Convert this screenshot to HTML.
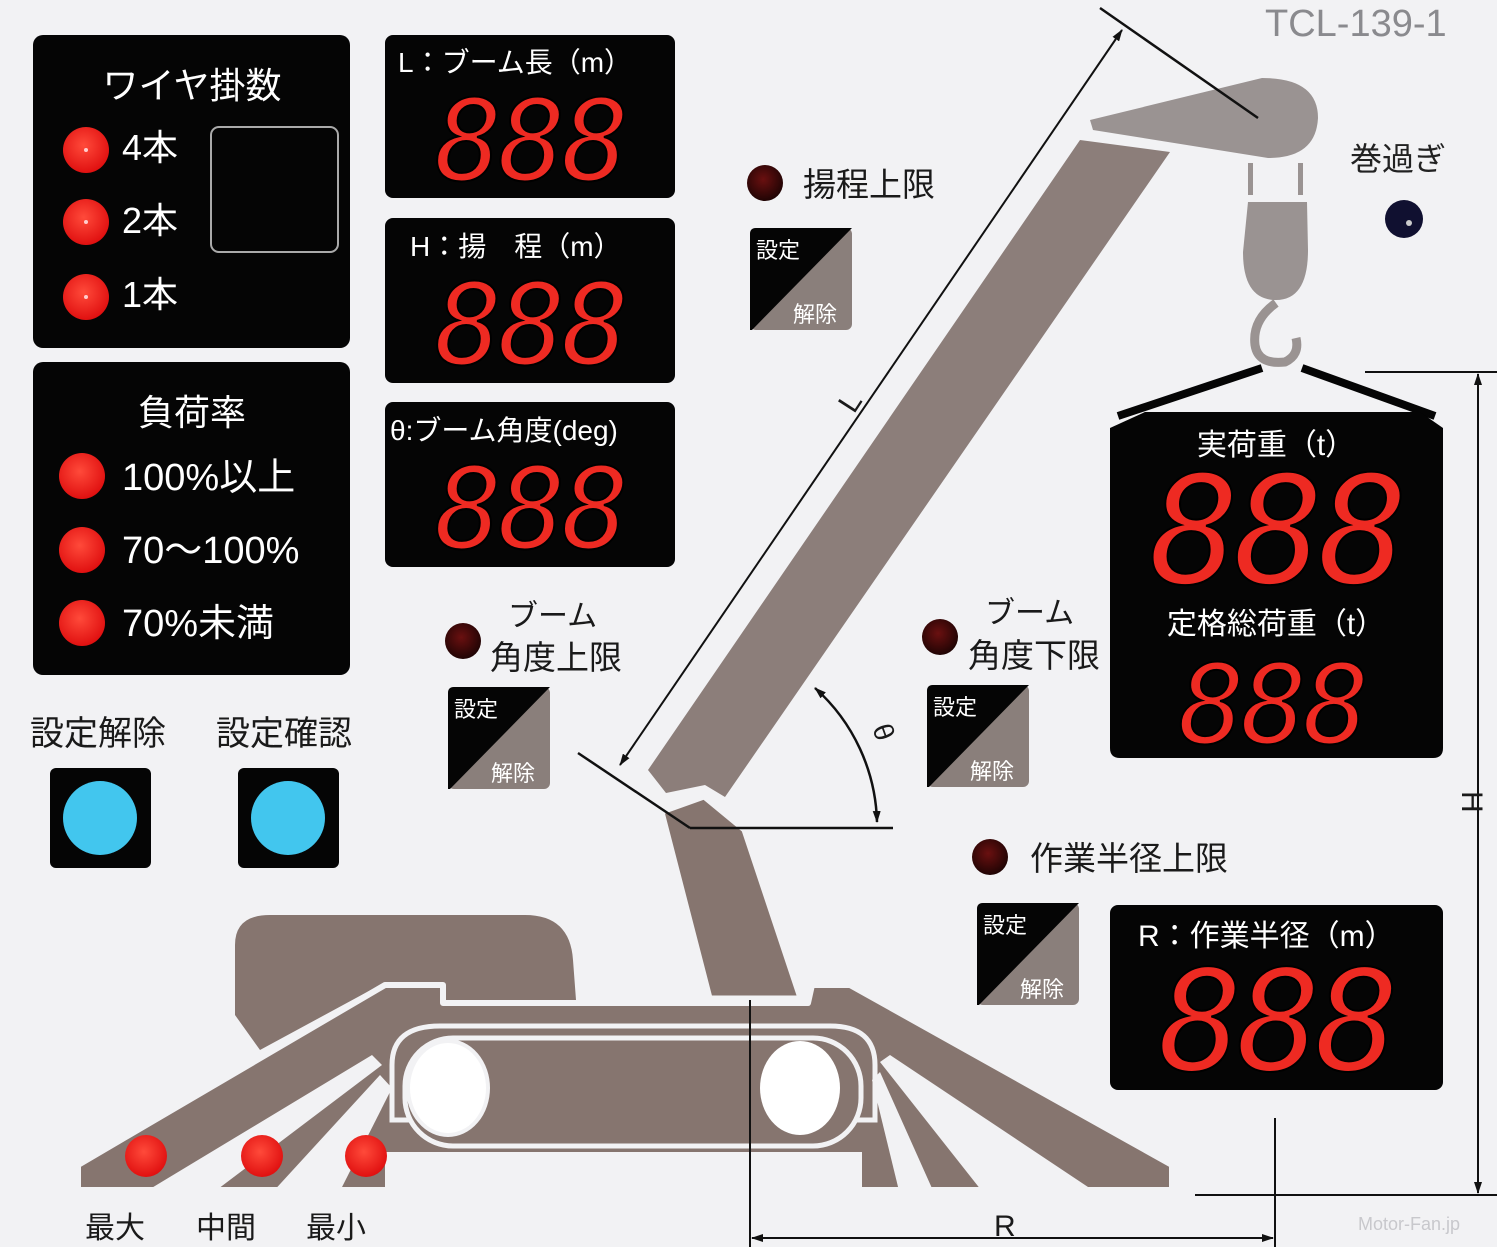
<!DOCTYPE html>
<html><head><meta charset="utf-8"><style>
html,body{margin:0;padding:0;background:#f2f2f4;}
svg{display:block;}
.j{font-family:"Liberation Sans","Noto Sans CJK JP",sans-serif;}
.w{fill:#fff;}
.d{font-family:"DejaVu Sans Mono","Liberation Mono",monospace;font-style:italic;fill:#ee2a22;stroke:#000;stroke-width:2;}
.k{fill:#1a1a1a;}
</style></head><body>
<svg width="1497" height="1247" viewBox="0 0 1497 1247" xmlns="http://www.w3.org/2000/svg">
<defs>
<radialGradient id="red" cx="0.45" cy="0.4" r="0.6"><stop offset="0" stop-color="#ff4a3a"/><stop offset="1" stop-color="#e01010"/></radialGradient>
<radialGradient id="dred" cx="0.45" cy="0.4" r="0.6"><stop offset="0" stop-color="#6a1010"/><stop offset="1" stop-color="#200404"/></radialGradient>
<marker id="ar" markerWidth="12" markerHeight="8" refX="11" refY="4" orient="auto-start-reverse" markerUnits="userSpaceOnUse"><path d="M0,0 L12,4 L0,8 Z" fill="#111"/></marker>
</defs>
<rect width="1497" height="1247" fill="#f2f2f4"/>

<!-- wire panel -->
<rect x="33" y="35" width="317" height="313" rx="10" fill="#050505"/>
<text x="192" y="98" class="j w" font-size="36" text-anchor="middle">ワイヤ掛数</text>
<rect x="211" y="127" width="127" height="125" rx="8" fill="none" stroke="#aaa" stroke-width="2"/>
<circle cx="86" cy="150" r="23" fill="url(#red)"/><circle cx="86" cy="150" r="2" fill="#fcc"/>
<circle cx="86" cy="222" r="23" fill="url(#red)"/><circle cx="86" cy="222" r="2" fill="#fcc"/>
<circle cx="86" cy="297" r="23" fill="url(#red)"/><circle cx="86" cy="297" r="2" fill="#fcc"/>
<text x="122" y="160" class="j w" font-size="36">4本</text>
<text x="122" y="233" class="j w" font-size="36">2本</text>
<text x="122" y="307" class="j w" font-size="36">1本</text>

<!-- load rate panel -->
<rect x="33" y="362" width="317" height="313" rx="10" fill="#050505"/>
<text x="192" y="425" class="j w" font-size="36" text-anchor="middle">負荷率</text>
<circle cx="82" cy="476" r="23" fill="url(#red)"/><circle cx="82" cy="550" r="23" fill="url(#red)"/><circle cx="82" cy="623" r="23" fill="url(#red)"/>
<text x="122" y="490" class="j w" font-size="38">100%以上</text>
<text x="122" y="563" class="j w" font-size="38">70～100%</text>
<text x="122" y="636" class="j w" font-size="38">70%未満</text>

<text x="30" y="745" class="j k" font-size="34">設定解除</text>
<text x="216" y="745" class="j k" font-size="34">設定確認</text>
<rect x="50" y="768" width="101" height="100" rx="6" fill="#050505"/><circle cx="100" cy="818" r="37" fill="#42c6ee"/>
<rect x="238" y="768" width="101" height="100" rx="6" fill="#050505"/><circle cx="288" cy="818" r="37" fill="#42c6ee"/>

<!-- L H theta displays -->
<rect x="385" y="35" width="290" height="163" rx="8" fill="#050505"/>
<text x="398" y="72" class="j w" font-size="28">L：ブーム長（m）</text>
<text x="530" y="180" class="d" font-size="112" text-anchor="middle" letter-spacing="-4">888</text>
<rect x="385" y="218" width="290" height="165" rx="8" fill="#050505"/>
<text x="410" y="256" class="j w" font-size="28">H：揚　程（m）</text>
<text x="530" y="364" class="d" font-size="112" text-anchor="middle" letter-spacing="-4">888</text>
<rect x="385" y="402" width="290" height="165" rx="8" fill="#050505"/>
<text x="390" y="440" class="j w" font-size="28">θ:ブーム角度(deg)</text>
<text x="530" y="548" class="d" font-size="112" text-anchor="middle" letter-spacing="-4">888</text>

<!-- crawler / cab -->
<path d="M235,1015 L235,945 Q235,915 270,915 L525,915 Q570,915 573,960 L576,1000 L440,1000 L440,985 L380,985 L260,1050 Z" fill="#86756f"/>
<path d="M662,812 L704,797 L744,830 L800,998 L710,998 Z" fill="#86756f" stroke="#f2f2f4" stroke-width="5"/>
<path d="M78,1190 L78,1165 L385,985 L443,985 L443,1003 L808,1003 L812,985 L850,985 L1172,1165 L1172,1190 Z" fill="#86756f" stroke="#f2f2f4" stroke-width="6" stroke-linejoin="round"/>
<path d="M140,1195 L372,1055 L382,1065 L210,1195 Z" fill="#f2f2f4"/>
<path d="M270,1195 L380,1075 L392,1088 L338,1195 Z" fill="#f2f2f4"/>
<path d="M385,1195 L385,1152 L862,1152 L862,1195 Z" fill="#f2f2f4"/>
<path d="M900,1195 L872,1080 L880,1072 L935,1195 Z" fill="#f2f2f4"/>
<path d="M985,1195 L880,1062 L890,1055 L1100,1195 Z" fill="#f2f2f4"/>
<path d="M392,1120 L392,1065 Q392,1026 440,1026 L830,1026 Q875,1026 875,1065 L875,1120 Z" fill="none" stroke="#f2f2f4" stroke-width="5"/>
<rect x="405" y="1038" width="456" height="108" rx="48" fill="#86756f" stroke="#f2f2f4" stroke-width="5"/>
<ellipse cx="448" cy="1088" rx="40" ry="47" fill="#fff" stroke="#f2f2f4" stroke-width="4"/>
<ellipse cx="800" cy="1088" rx="40" ry="47" fill="#fff"/>
<circle cx="146" cy="1156" r="21" fill="url(#red)"/><circle cx="262" cy="1156" r="21" fill="url(#red)"/><circle cx="366" cy="1156" r="21" fill="url(#red)"/>
<text x="85" y="1238" class="j k" font-size="30">最大</text>
<text x="196" y="1238" class="j k" font-size="30">中間</text>
<text x="306" y="1238" class="j k" font-size="30">最小</text>

<!-- boom -->
<path d="M1080,140 L1170,152 L725,797 L705,785 L666,793 L648,770 Z" fill="#8c7e7a"/>
<path d="M1090,120 L1262,78 Q1318,78 1318,118 Q1316,158 1268,158 L1093,130 Z" fill="#9a9392"/>
<rect x="1248" y="163" width="5" height="32" fill="#9a9392"/><rect x="1298" y="163" width="5" height="32" fill="#9a9392"/>
<path d="M1248,202 L1307,202 L1308,250 Q1308,300 1276,300 Q1243,300 1243,252 Z" fill="#9a9392"/>
<path d="M1276,303 Q1252,320 1255,345 Q1258,365 1285,362 Q1300,355 1296,338" fill="none" stroke="#9a9392" stroke-width="9"/>

<!-- dimension lines -->
<line x1="1100" y1="8" x2="1258" y2="118" stroke="#111" stroke-width="2.5"/>
<line x1="578" y1="753" x2="690" y2="828" stroke="#111" stroke-width="2.5"/>
<line x1="690" y1="828" x2="893" y2="828" stroke="#111" stroke-width="2.5"/>
<line x1="620" y1="765" x2="1122" y2="30" stroke="#111" stroke-width="2" marker-start="url(#ar)" marker-end="url(#ar)"/>
<text x="845" y="412" class="j k" font-size="30" transform="rotate(-57 852 405)">L</text>
<path d="M815,688 A186,186 0 0 1 877,822" fill="none" stroke="#111" stroke-width="2.5" marker-start="url(#ar)" marker-end="url(#ar)"/>
<text x="872" y="728" class="j k" font-size="28" transform="rotate(70 872 728)">θ</text>

<line x1="1365" y1="372" x2="1497" y2="372" stroke="#111" stroke-width="2"/>
<line x1="1195" y1="1195" x2="1497" y2="1195" stroke="#111" stroke-width="2"/>
<line x1="1478" y1="374" x2="1478" y2="1193" stroke="#111" stroke-width="2" marker-start="url(#ar)" marker-end="url(#ar)"/>
<text x="1448" y="805" class="j k" font-size="30" transform="rotate(90 1462 805)">H</text>
<line x1="750" y1="1000" x2="750" y2="1247" stroke="#111" stroke-width="2"/>
<line x1="1275" y1="1118" x2="1275" y2="1247" stroke="#111" stroke-width="2"/>
<line x1="752" y1="1238" x2="1273" y2="1238" stroke="#111" stroke-width="2" marker-start="url(#ar)" marker-end="url(#ar)"/>
<text x="994" y="1236" class="j k" font-size="30">R</text>

<!-- top right -->
<text x="1265" y="36" class="j" font-size="38" fill="#8a8a8e">TCL-139-1</text>
<text x="1350" y="170" class="j" font-size="32" fill="#222">巻過ぎ</text>
<circle cx="1404" cy="219" r="19" fill="#101030"/><circle cx="1409" cy="223" r="3" fill="#ccc"/>

<!-- hanger + load display -->
<path d="M1262,368 L1118,416" stroke="#050505" stroke-width="8"/>
<path d="M1302,368 L1435,416" stroke="#050505" stroke-width="8"/>
<path d="M1145,412 L1420,412 L1443,428 L1443,748 Q1443,758 1433,758 L1120,758 Q1110,758 1110,748 L1110,428 Z" fill="#050505"/>
<text x="1276" y="455" class="j w" font-size="30" text-anchor="middle">実荷重（t）</text>
<text x="1276" y="583" class="d" font-size="150" text-anchor="middle" letter-spacing="-6">888</text>
<text x="1276" y="634" class="j w" font-size="30" text-anchor="middle">定格総荷重（t）</text>
<text x="1272" y="743" class="d" font-size="110" text-anchor="middle" letter-spacing="-4">888</text>

<rect x="1110" y="905" width="333" height="185" rx="8" fill="#050505"/>
<text x="1138" y="946" class="j w" font-size="30">R：作業半径（m）</text>
<text x="1276" y="1070" class="d" font-size="140" text-anchor="middle" letter-spacing="-6">888</text>

<!-- indicator LEDs and labels -->
<circle cx="765" cy="183" r="18" fill="url(#dred)"/>
<text x="803" y="196" class="j k" font-size="33">揚程上限</text>
<circle cx="463" cy="641" r="18" fill="url(#dred)"/>
<text x="508" y="626" class="j k" font-size="30">ブーム</text>
<text x="490" y="669" class="j k" font-size="33">角度上限</text>
<circle cx="940" cy="637" r="18" fill="url(#dred)"/>
<text x="985" y="623" class="j k" font-size="30">ブーム</text>
<text x="968" y="667" class="j k" font-size="33">角度下限</text>
<circle cx="990" cy="857" r="18" fill="url(#dred)"/>
<text x="1030" y="870" class="j k" font-size="33">作業半径上限</text>

<!-- set/release buttons -->
<g>
<rect x="750" y="228" width="102" height="102" rx="6" fill="#8a7f7b"/><path d="M756,228 L852,228 L752,330 L750,330 L750,234 Q750,228 756,228 Z" fill="#050505"/>
<text x="756" y="258" class="j w" font-size="22">設定</text><text x="793" y="322" class="j w" font-size="22">解除</text>
</g>
<g>
<rect x="448" y="687" width="102" height="102" rx="6" fill="#8a7f7b"/><path d="M454,687 L550,687 L450,789 L448,789 L448,693 Q448,687 454,687 Z" fill="#050505"/>
<text x="454" y="717" class="j w" font-size="22">設定</text><text x="491" y="781" class="j w" font-size="22">解除</text>
</g>
<g>
<rect x="927" y="685" width="102" height="102" rx="6" fill="#8a7f7b"/><path d="M933,685 L1029,685 L929,787 L927,787 L927,691 Q927,685 933,685 Z" fill="#050505"/>
<text x="933" y="715" class="j w" font-size="22">設定</text><text x="970" y="779" class="j w" font-size="22">解除</text>
</g>
<g>
<rect x="977" y="903" width="102" height="102" rx="6" fill="#8a7f7b"/><path d="M983,903 L1079,903 L979,1005 L977,1005 L977,909 Q977,903 983,903 Z" fill="#050505"/>
<text x="983" y="933" class="j w" font-size="22">設定</text><text x="1020" y="997" class="j w" font-size="22">解除</text>
</g>

<text x="1358" y="1230" class="j" font-size="18" fill="#c8c8cc">Motor-Fan.jp</text>
</svg>
</body></html>
